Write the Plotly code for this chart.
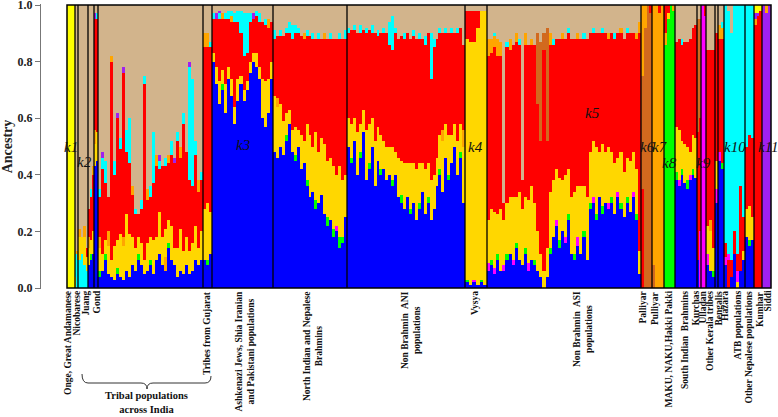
import re
import plotly.graph_objects as go

# ancestry components: letter code -> (label, colour)
COMPONENTS = {
    "A": ("k1", "#FFFF00"),
    "T": ("k2", "#D2B48C"),
    "B": ("k3", "#0000FF"),
    "Y": ("k4", "#FFD700"),
    "R": ("k5", "#FF0000"),
    "C": ("k6", "#D2691E"),
    "O": ("k7", "#FFA500"),
    "G": ("k8", "#00FF00"),
    "M": ("k9", "#FF00FF"),
    "Q": ("k10", "#00FFFF"),
    "P": ("k11", "#A020F0"),
}

# each string = one block of individuals, segments listed bottom -> top, in percent
ONGE = ["A100", "A100", "A100"]
NICOBARESE = ["Y4Q8T88", "Q10O3T87"]
JUANG = ["Q10Y8O3T79", "Q12Y6T82", "Q8Y10O4T78", "Q6Y5R3T86"]
MIDLAND = ["B8Y6O4R10T72", "B10G2Y5R15Q3T65", "B12Y8R20O3T57"]
GOND = ["B43Y8O5R39P2T3", "B45Y10R40Q2T3"]
TRIBAL = [
    "B4G2Y8O4R14Q3T65", "B6Y6R30Q4P2T52", "B10G2Y5R20Q8T55", "B5Y10O5R12T68",
    "B4Y6R70O2T18", "B3Y12R25Q5T55", "B5G2Y10R43P2T38", "B4Y15R30Q4T47",
    "B3Y12O3R58P2T22", "B6Y20R22Q8T44", "B4Y15R25Q16T40", "B8Y10R15O3T64",
    "B6Y8R12Q2T72", "B10G2Y6R8T74", "B8Y8R12Q3T69", "B5Y5R62Q3T25",
    "B6Y10R15O4T65", "B8G2Y8R14Q4T64", "B5Y12R20Q18T45", "B10Y8R25O4T53",
    "B12Y15R15Q3P2T53", "B8Y10R25T57", "B6O5Y10R22Q3T54", "B14G2Y8R20O3T53",
    "B10Y12R25Q5T48", "B8Y6R30P2T54", "B4Y10R38Q3T45", "B6Y15R25O4T50",
    "B5Y8R45Q4T38", "B8Y10R30T52", "B5Y8R25Q40P2T20", "B6Y10R20Q38T26",
    "B10Y12R25Q5T48", "B8Y6R20O4T62", "B10Y10R18Q3T59",
]
GUJARAT = ["B10Y18R57O5T10", "B8G2Y20R55O5T10", "B12Y15R58Q2T13"]
ASHKENAZI = [
    "B80Y3R12Q2T3", "B72Y6R17P2T3", "B65Y8R22Q2P1T2", "B70G2Y5R18O2T3",
    "B62Y10R23Q2T3", "B74Y4R17Q3T2", "B68Y6R20O2Q2T2", "B58Y6R30Q3T3",
    "B66Y8R20Q4T2", "B72Y3R15Q8T2", "B66Y4R12Q15T3", "B70Y3R10Q14T3",
    "B76Y4R14Q3T3", "B80Y3R12P2T3", "B78Y5R13Q2T2", "B74Y4R16Q3T3",
    "B60Y14R20T6", "B57Y16R20Q2T5", "B62Y12R18O3T5", "B74Y6R14T6",
]
NORTH_BRAHMIN = [
    "B48Y20R20Q3T9", "B46Y18O3R22T11", "B50Y15R24Q2T9", "B47Y12R30T11",
    "B52G2Y8R28Q2T8", "B58Y5R27Q4T6", "B48Y8R32Q5T7", "B45G2Y10R33Q3T7",
    "B50Y6R34Q2T8", "B42Y12R35T11", "B44Y8R36O2T10", "B36G2Y20R31Q2T9",
    "B32Y22R35T11", "B34Y16R38Q2T10", "B28G3Y24R33T12", "B30Y18R40Q2T10",
    "B33Y20R35T12", "B26Y25R37O2T10", "B22G3Y20R43T12", "B24Y22R42Q2T10",
    "B18G3Y22R45T12", "B20M2Y18R48T12", "B14G4Y25R45Q2T10", "B16G2Y20R50T12",
    "B25Y15R48Q3T9",
]
NB_ANI = [
    "B50Y10R30Q2T8", "B44G2Y12R33T9", "B52Y8R31Q2T7", "B40Y15R35T10",
    "B46G2Y10R32Q3T7", "B55Y8R28T9", "B38Y18R34Q2T8", "B42G2Y14R33T9",
    "B50Y10R30Q3T7", "B36Y16R38T10", "B45Y12R32Q2T9", "B40G2Y12R36T10",
    "B42Y10R38Q2T8", "B38Y12R40T10", "B40Y10R36Q8T6", "B36G2Y12R34Q12T4",
    "B40Y8R42Q2T8", "B32Y14R42T12", "B30G3Y12R44T11", "B28Y16R44Q2T10",
    "B32Y12R46T10", "B26G2Y16R44T12", "B30Y14R45Q2T9", "B24Y18R46T12",
    "B28G2Y14R44Q2T10", "B34Y10R44T12", "B26Y16R44Q3T11", "B30G2Y12R46T10",
    "B24Y14R36Q16T10", "B28Y12R45Q3T12", "B36Y10R42T12", "B40G2Y12R36Q2T8",
    "B34Y18O4R34T10", "B46Y12R32Q2T8", "B38G2Y14R36T10", "B44Y10R36Q2T8",
    "B50Y8R32T10", "B40Y12R38Q2T8", "B46G2Y10R34T8", "B30Y20O6R30T14",
]
VYSYA = ["B2G1Y85R10T2", "B1Y86R11T2", "B2M1Y84R11T2", "B1Y91R6T2", "B2G1Y95T2", "B1Y97T2"]
NB_ASI = [
    "B6M3Y15R58O6T12", "B8G2Y18R55O5T12", "B5M2Y20R58O4Q1T10", "B10G2Y14R56O6T12",
    "B6Y22R54O5T13", "B6M2Y16R6T70", "B10G2Y18R55Q2T13", "B12Y20R52O4T12",
    "B8M2Y22R54T14", "B14G2Y16R55O3T10", "B10Y24R52Q2T12", "B8Y20R10T62",
    "B12G2Y18R54O4T10", "B6M3Y22R55T14", "B10Y26R50O2T12", "B8G2Y20R56T14",
    "B6Y14R45C25T10", "B4Y8R40C35T13", "Y6R78C6T10", "B4Y10R38C40T8",
    "B12G2Y20R52O4T10", "B18Y20R48Q2T12", "B22M2Y18R46T12", "B14G3Y22R49T12",
    "B20Y18R50O2T10", "B16M2Y22R48T12", "B24G2Y16R48Q2T8", "B12Y20R56T12",
    "B10G2Y22R54T12", "B15M3Y18R52O2T10", "B12Y24R52T12", "B18G2Y16R52Q2T10",
    "B10Y22R56T12", "B28G2Y18R42T10", "B30M2Y20R38Q2T8", "B24G2Y24R40T10",
    "B32Y16R42T10", "B26G3Y22R39Q2T8", "B30Y18R42T10", "B28M2Y20R38O2T10",
    "B30G2Y16R42T10", "B26Y18R44Q2T10", "B32M2Y12R44T10", "B28G2Y18R42O2T8",
    "B25Y16R47T12", "B30G2Y14R44Q2T8", "B27Y18R45T10", "B32M2Y14R42T10",
    "B24G2Y16R46O2T10", "B5Y8R77O4T6",
]
PALLIYAR = ["R35C40O25", "C92O8", "C100", "C97R3"]
PULLIYAR = ["C8O92", "O100", "O97R3", "O100"]
MAKU = ["G86O4R10", "G95Y2R3", "G100", "G98O2"]
SOUTH_BRAHMIN = [
    "B38G3Y16R30T13", "B36M2Y18R32T12", "B40G2Y10R34Q2T12", "B37Y14R36T13",
    "B35G3Y12R37T13", "B38M2Y8R40T12", "B40G2Y12R38T8", "B39Y14R40T7",
]
KURCHAS = ["B10R45C40T5", "M20R40C35T5"]
ULLADAN = ["M100", "M96R4"]
KERALA = ["B8M4Y10R62T16", "B6Y14O4R60T16", "B4G2Y8R70T16"]
BENGALIS = ["B30M5Y10R45T10"]
HAZARA = ["B45M3R40O5T7", "B42G2R44O4Q2T6"]
ATB = ["B8M3R5Q84", "R10M2Q86T2", "B4R6Q80T10", "B12R8Q80", "Y2M4R6Q88", "B6R30Q64", "B10Y3R12Q75"]
NEPALESE = ["B18Y10R22Q50", "B15G2Y12R25Q46", "B17Y8R28Q47"]
KUMHAR = ["R93O2P2A3", "R96P1A3", "R98A2"]
SIDDI = ["P100", "P97O3", "P100"]

# (blocks, number of individuals in the population)
GROUPS = [
    (ONGE, 8), (NICOBARESE, 3), (JUANG, 10), (MIDLAND, 6), (GOND, 4),
    (TRIBAL, 105), (GUJARAT, 9), (ASHKENAZI, 61), (NORTH_BRAHMIN, 74),
    (NB_ANI, 118), (VYSYA, 22), (NB_ASI, 154), (PALLIYAR, 11), (PULLIYAR, 12),
    (MAKU, 11), (SOUTH_BRAHMIN, 22), (KURCHAS, 4), (ULLADAN, 5), (KERALA, 9),
    (BENGALIS, 3), (HAZARA, 6), (ATB, 21), (NEPALESE, 9), (KUMHAR, 8), (SIDDI, 9),
]

# population labels under the plot: (text, position in individuals)
POP_LABELS = [
    ("Onge, Great Andamanese", 1), ("Nicobarese", 9), ("Juang", 18), ("Gond", 29),
    ("Tribes from Gujarat", 140),
    ("Ashkenazi Jews, Shia Iranian<br>and Pakistani populations", 177),
    ("North Indian and Nepalese<br>Brahmins", 246),
    ("Non Brahmin  ANI<br>populations", 344), ("Vysya", 408),
    ("Non Brahmin  ASI<br>populations", 516), ("Palliyar", 575), ("Pulliyar", 588),
    ("MAKU, NAKU,Hakki Pakki", 601), ("South Indian  Brahmins", 618),
    ("Kurchas", 628), ("Ulladan", 635), ("Other Kerala tribes", 643),
    ("Bengalis", 651), ("Hazara", 658), ("ATB populations", 670),
    ("Other Nepalese populations", 681), ("Kumhar", 693), ("Siddi", 700),
]

# cluster tags inside the plot: (text, x in individuals, y in ancestry)
K_LABELS = [
    ("k1", 4, 0.50), ("k2", 17, 0.445), ("k3", 176, 0.505), ("k4", 408, 0.50),
    ("k5", 525, 0.62), ("k6", 580, 0.50), ("k7", 593, 0.50), ("k8", 602, 0.44),
    ("k9", 636, 0.44), ("k10", 668, 0.50), ("k11", 701, 0.50),
]

W, H = 778, 417
ML, MR, MT, MB = 40, 6, 4, 128
TOTAL = sum(n for _, n in GROUPS)


def px(x):
    return (x - ML) / (W - ML - MR)


def py(y):
    return (H - MB - y) / (H - MT - MB)


# build one trace per component
traces = {k: dict(x=[], y=[], base=[], width=[]) for k in COMPONENTS}
start = 0
bounds = []
for blocks, n in GROUPS:
    w = n / len(blocks)
    for i, blk in enumerate(blocks):
        xc = start + (i + 0.5) * w
        cum = 0.0
        for code, val in re.findall(r"([A-Z])(\d+)", blk):
            v = int(val) / 100
            t = traces[code]
            t["x"].append(xc)
            t["y"].append(v)
            t["base"].append(cum)
            t["width"].append(w)
            cum += v
    start += n
    bounds.append(start)

fig = go.Figure()
for code, (name, color) in COMPONENTS.items():
    t = traces[code]
    fig.add_trace(go.Bar(
        x=t["x"], y=t["y"], base=t["base"], width=t["width"], name=name,
        marker=dict(color=color, line=dict(width=0)), hoverinfo="skip",
    ))

shapes = [dict(type="line", xref="x", yref="y", x0=b, x1=b, y0=0, y1=1,
               line=dict(color="black", width=1.3)) for b in bounds[:-1]]
shapes.append(dict(type="rect", xref="x", yref="y", x0=0, x1=TOTAL, y0=0, y1=1,
                   line=dict(color="black", width=1.5)))

# brace under the tribal groups
pts = [(82, 374), (88, 383), (141, 383), (147, 389), (153, 383), (205, 383), (211, 376)]
p = [(px(a), py(b)) for a, b in pts]
path = (f"M {p[0][0]},{p[0][1]} Q {px(82)},{py(383)} {p[1][0]},{p[1][1]} "
        f"L {p[2][0]},{p[2][1]} Q {px(147)},{py(383)} {p[3][0]},{p[3][1]} "
        f"Q {px(147)},{py(383)} {p[4][0]},{p[4][1]} L {p[5][0]},{p[5][1]} "
        f"Q {px(211)},{py(383)} {p[6][0]},{p[6][1]}")
shapes.append(dict(type="path", xref="paper", yref="paper", path=path,
                   line=dict(color="#333333", width=1)))

serif = "Liberation Serif, Times New Roman, serif"
annotations = []
for text, x in POP_LABELS:
    annotations.append(dict(
        text=text, x=x, y=py(290), xref="x", yref="paper", textangle=-90,
        xanchor="center", yanchor="top", showarrow=False, align="center",
        borderpad=0, font=dict(family=serif, size=9.5, color="#111", weight="bold"),
    ))
for text, x, y in K_LABELS:
    annotations.append(dict(
        text=text, x=x, y=y, xref="x", yref="y", showarrow=False,
        font=dict(family=serif, size=15, color="#111", style="italic"),
    ))
annotations.append(dict(
    text="Tribal populations<br>across India", x=px(146), y=py(389),
    xref="paper", yref="paper", xanchor="center", yanchor="top", showarrow=False,
    borderpad=0, align="center",
    font=dict(family=serif, size=10.5, color="#111", weight="bold"),
))

ey = 1 / 283
fig.update_layout(
    template="none",
    width=W, height=H,
    margin=dict(l=ML, r=MR, t=MT, b=MB),
    barmode="overlay", bargap=0,
    showlegend=False,
    plot_bgcolor="white", paper_bgcolor="white",
    shapes=shapes, annotations=annotations,
    xaxis=dict(domain=[px(66), 1], range=[-1, TOTAL + 1], showticklabels=False,
               showgrid=False, zeroline=False, showline=False, ticks=""),
    yaxis=dict(range=[-ey, 1 + ey], anchor="free", position=0,
               tickvals=[0, 0.2, 0.4, 0.6, 0.8, 1.0], tickformat=".1f",
               ticks="outside", ticklen=5, tickcolor="#777", showline=True,
               linecolor="#777", showgrid=False, zeroline=False, automargin=False,
               ticklabeloverflow="allow",
               tickfont=dict(family=serif, size=12, color="#222", weight="bold"),
               title=dict(text="Ancestry", standoff=0,
                          font=dict(family=serif, size=14, color="#222", weight="bold"))),
)

# drop the default page margin so the figure sits at the window origin
fig.write_html("out.html", config={"displayModeBar": False},
               post_script="document.body.style.margin='0';")
